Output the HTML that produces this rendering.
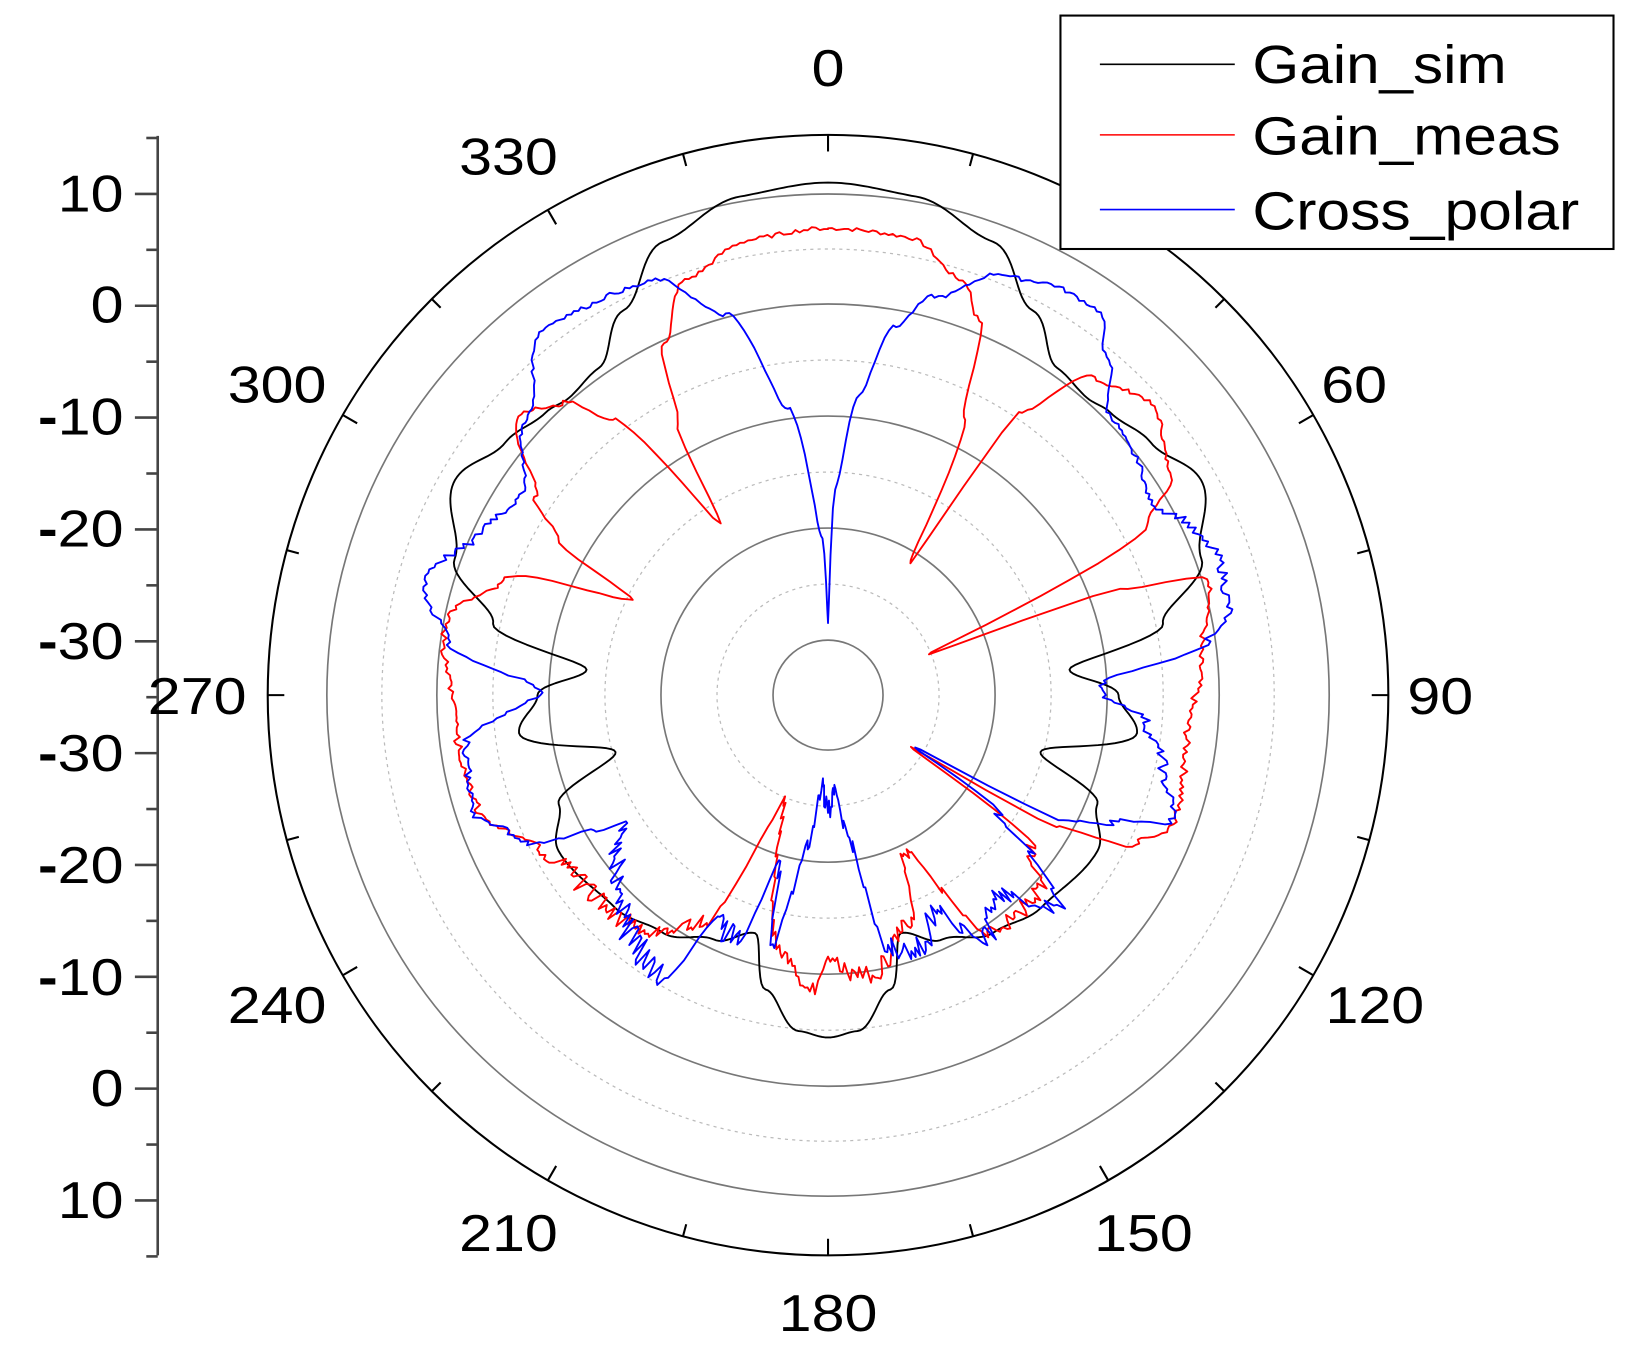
<!DOCTYPE html>
<html><head><meta charset="utf-8"><style>
html,body{margin:0;padding:0;background:#fff;}
svg{display:block;}
text{font-family:"Liberation Sans",Arial,sans-serif;fill:#000;}
</style></head><body>
<svg id="s" width="1627" height="1356" viewBox="0 0 1568 1307" preserveAspectRatio="none" xmlns="http://www.w3.org/2000/svg">
<rect width="1568" height="1307" fill="#fff"/>
<g id="grid"></g>
<g id="curves"></g>
<g stroke="#444" stroke-width="2.5" fill="none" id="axis">
<line x1="152" y1="131" x2="152" y2="1210"/>
</g>
<g font-size="50" text-anchor="end" class="st">
<text x="119" y="204">10</text>
<text x="119" y="311">0</text>
<text x="119" y="419"><tspan font-weight="bold">-</tspan>10</text>
<text x="119" y="527"><tspan font-weight="bold">-</tspan>20</text>
<text x="119" y="635"><tspan font-weight="bold">-</tspan>30</text>
<text x="119" y="743"><tspan font-weight="bold">-</tspan>30</text>
<text x="119" y="851"><tspan font-weight="bold">-</tspan>20</text>
<text x="119" y="959"><tspan font-weight="bold">-</tspan>10</text>
<text x="119" y="1066">0</text>
<text x="119" y="1174">10</text>
</g>
<g font-size="50" text-anchor="middle" class="st">
<text x="798" y="83">0</text>
<text x="490" y="168">330</text>
<text x="267" y="388">300</text>
<text x="190" y="688">270</text>
<text x="267" y="986">240</text>
<text x="490" y="1206">210</text>
<text x="798" y="1283">180</text>
<text x="1102" y="1206">150</text>
<text x="1325" y="986">120</text>
<text x="1388" y="688">90</text>
<text x="1305" y="388">60</text>
</g>
<rect x="1022" y="15" width="533" height="225" fill="#fff" stroke="#000" stroke-width="2"/>
<line x1="1060" y1="62" x2="1190" y2="62" stroke="#000" stroke-width="1.5"/>
<line x1="1060" y1="130" x2="1190" y2="130" stroke="#f00" stroke-width="1.5"/>
<line x1="1060" y1="202" x2="1190" y2="202" stroke="#00f" stroke-width="1.5"/>
<g font-size="52">
<text x="1207" y="80" textLength="245" lengthAdjust="spacingAndGlyphs">Gain_sim</text>
<text x="1207" y="149" textLength="297" lengthAdjust="spacingAndGlyphs">Gain_meas</text>
<text x="1207" y="221" textLength="315" lengthAdjust="spacingAndGlyphs">Cross_polar</text>
</g>
</svg>
<script>
var NS="http://www.w3.org/2000/svg",cx=798,cy=670;
function el(p,t,a){var e=document.createElementNS(NS,t);for(var k in a)e.setAttribute(k,a[k]);p.appendChild(e);return e;}
document.querySelectorAll('.st text').forEach(function(t){try{var L=t.getComputedTextLength();t.setAttribute('textLength',(L*1.14).toFixed(1));t.setAttribute('lengthAdjust','spacingAndGlyphs');}catch(e){}});
var g=document.getElementById('grid');
[53,161,269,377,483].forEach(function(r){el(g,'circle',{cx:cx,cy:cy,r:r,fill:'none',stroke:'#777','stroke-width':1.6});});
[107,215,323,430].forEach(function(r){el(g,'circle',{cx:cx,cy:cy,r:r,fill:'none',stroke:'#bbb','stroke-width':1.2,'stroke-dasharray':'3 4'});});
el(g,'circle',{cx:cx,cy:cy,r:540,fill:'none',stroke:'#000','stroke-width':2});
for(var a=0;a<360;a+=15){var t=a*Math.PI/180,s=Math.sin(t),c=-Math.cos(t);var l=a%30==0?16:12;
el(g,'line',{x1:cx+540*s,y1:cy+540*c,x2:cx+(540-l)*s,y2:cy+(540-l)*c,stroke:'#000','stroke-width':2});}
var ax=document.getElementById('axis');
for(var i=0;i<=20;i++){var y2=133+i*53.9;if(y2>1212)break;var maj=(i%2==1);
el(ax,'line',{x1:maj?130:141,y1:y2,x2:152,y2:y2});}
function interp(tab,a){for(var i=0;i<tab.length-1;i++){if(a>=tab[i][0]&&a<=tab[i+1][0]){var f=(a-tab[i][0])/(tab[i+1][0]-tab[i][0]);f=(1-Math.cos(f*Math.PI))/2;return tab[i][1]+(tab[i+1][1]-tab[i][1])*f;}}return tab[tab.length-1][1];}
var seed=7;function rnd(){seed=(seed*9301+49297)%233280;return seed/233280;}
function draw(tab,col,noise){var d='',cg=document.getElementById('curves');
for(var a=0;a<=360;a+=0.5){var r=interp(tab,a);if(noise)r+=noise(a)*(rnd()-0.5);var t=a*Math.PI/180;
d+=(a==0?'M':'L')+(cx+r*Math.sin(t)).toFixed(1)+','+(cy-r*Math.cos(t)).toFixed(1);}
el(cg,'path',{d:d+'Z',fill:'none',stroke:col,'stroke-width':1.8,'stroke-linejoin':'round'});}
var half=[[0,494],[10,488],[20,465],[28,420],[35,385],[41,380],[45,385],[52,395],[60,415],[70,383],[78,330],[84,234],[90,280],[97,300],[105,212],[112,280],[120,300],[135,290],[145,279],[155,260],[163,240],[168,290],[175,325],[180,330]];
var sim=half.slice();for(var i=half.length-2;i>=0;i--)sim.push([360-half[i][0],half[i][1]]);
draw(sim,'#000');
var red=[[0,450],[10,448],[18,420],[22,390],[26,300],[32,150],[34,330],[40,400],[48,419],[57,395],[62,350],[68,105],[70,300],[73,383],[85,360],[95,348],[111,355],[116,330],[120,257],[122,94],[126,240],[133,277],[145,280],[154,166],[160,235],[172,273],[180,260],[184,290],[190,250],[203,115],[208,250],[220,293],[235,300],[242,316],[252,355],[265,360],[281,375],[290,330],[296,211],[300,300],[304,341],[312,402],[318,380],[322,337],[328,196],[331,300],[335,375],[341,423],[350,445],[360,450]];
draw(red,'#f00',function(a){return (a>80&&a<290)?(a>125&&a<240?18:7):4;});
var blue=[[0,70],[2,200],[6,292],[10,360],[15,398],[23,440],[30,452],[35,453],[40,420],[45,383],[52,375],[59,363],[65,385],[71,399],[78,395],[82,370],[87,270],[89,262],[95,308],[102,330],[110,353],[114,300],[118,260],[121,95],[124,200],[132,299],[140,250],[147,280],[154,233],[160,260],[167,251],[171,150],[176,85],[180,110],[184,90],[188,150],[193,250],[196,166],[200,252],[206,245],[211,316],[220,300],[225,281],[238,241],[245,330],[252,360],[262,352],[271,278],[278,371],[286,405],[295,370],[303,353],[313,395],[322,447],[330,440],[337,434],[345,380],[352,280],[358,150],[360,70]];
draw(blue,'#00f',function(a){return (a>125&&a<240)?24:(a>60&&a<300?9:4);});
</script>
</body></html>
